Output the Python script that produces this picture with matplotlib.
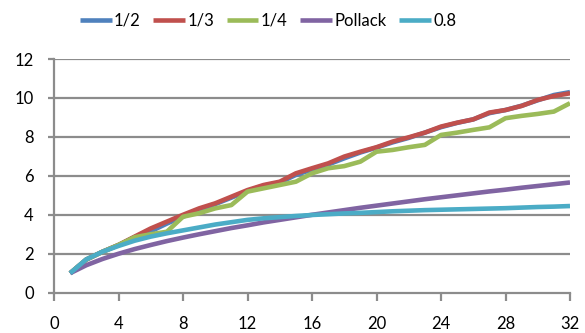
import matplotlib
matplotlib.use("Agg")
import matplotlib.pyplot as plt

plt.rcParams['font.family'] = ['Lato', 'DejaVu Sans']

x = list(range(1, 33))

half = [1.0, 1.70, 2.10, 2.45, 2.85, 3.15, 3.55, 3.90, 4.25, 4.55, 4.88, 5.22,
        5.50, 5.65, 6.05, 6.32, 6.58, 6.90, 7.20, 7.45, 7.72, 7.95, 8.22, 8.50,
        8.72, 8.90, 9.22, 9.38, 9.60, 9.88, 10.15, 10.30]
third = [1.0, 1.70, 2.10, 2.45, 2.88, 3.30, 3.65, 4.00, 4.33, 4.59, 4.93, 5.27,
         5.53, 5.70, 6.13, 6.39, 6.64, 6.99, 7.24, 7.47, 7.76, 7.98, 8.22, 8.53,
         8.73, 8.90, 9.25, 9.38, 9.59, 9.90, 10.10, 10.24]
quarter = [1.0, 1.70, 2.10, 2.45, 2.85, 3.00, 3.13, 3.90, 4.08, 4.33, 4.50, 5.19,
           5.36, 5.53, 5.70, 6.13, 6.39, 6.50, 6.73, 7.24, 7.33, 7.47, 7.59, 8.10,
           8.22, 8.36, 8.49, 8.96, 9.08, 9.18, 9.30, 9.73]
pollack = [1.0, 1.41, 1.73, 2.00, 2.24, 2.45, 2.65, 2.83, 3.00, 3.16, 3.32, 3.46,
           3.61, 3.74, 3.87, 4.00, 4.12, 4.24, 4.36, 4.47, 4.58, 4.69, 4.80, 4.90,
           5.00, 5.10, 5.20, 5.29, 5.39, 5.48, 5.57, 5.66]
p08 = [1.0, 1.71, 2.10, 2.40, 2.67, 2.88, 3.05, 3.20, 3.35, 3.50, 3.62, 3.74,
       3.82, 3.88, 3.94, 3.99, 4.03, 4.07, 4.10, 4.14, 4.18, 4.21, 4.24, 4.26,
       4.28, 4.30, 4.32, 4.34, 4.37, 4.40, 4.42, 4.45]

series = [("1/2", half, "#4F81BD"),
          ("1/3", third, "#C0504D"),
          ("1/4", quarter, "#9BBB59"),
          ("Pollack", pollack, "#8064A2"),
          ("0.8", p08, "#4BACC6")]

xticks = [0, 4, 8, 12, 16, 20, 24, 28, 32]
yticks = [0, 2, 4, 6, 8, 10, 12]

fig = plt.figure(figsize=(5.85, 3.33), dpi=100)
ax = fig.add_axes([54 / 585, 1 - 292.7 / 333, (570 - 54) / 585, (292.7 - 59) / 333])

grid_c = "#8C8C8C"
for y in yticks[1:]:
    ax.axhline(y, color=grid_c, lw=1.6, zorder=0)

for name, vals, col in series:
    ax.plot(x, vals, color=col, lw=3.3, label=name, solid_capstyle='butt',
            solid_joinstyle='round')

ax.set_xlim(0, 32)
ax.set_ylim(0, 12)
ax.set_xticks(xticks)
ax.set_yticks(yticks)
for s in ["top", "right"]:
    ax.spines[s].set_visible(False)
for s in ["left", "bottom"]:
    ax.spines[s].set_color(grid_c)
    ax.spines[s].set_linewidth(1.6)
ax.tick_params(axis='both', colors=grid_c, width=1.6, labelsize=12,
               labelcolor='black')
ax.tick_params(axis='x', length=5.5, pad=11.5)
ax.tick_params(axis='y', length=4.5, pad=10)

fig.legend(loc='center', bbox_to_anchor=(268 / 585, 1 - 21 / 333), ncol=5,
           frameon=False, fontsize=12, handlelength=1.9, handletextpad=0.15,
           columnspacing=0.75)

fig.savefig("out.png", dpi=100)
